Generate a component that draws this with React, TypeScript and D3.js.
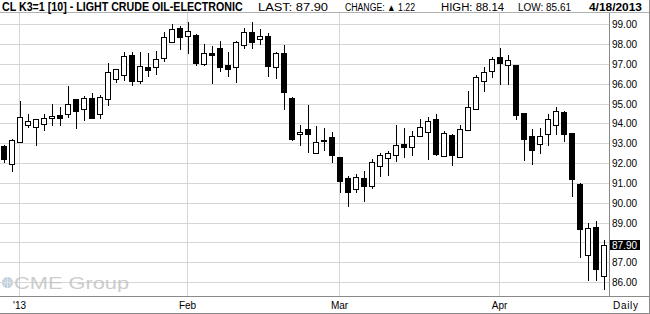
import React from 'react';
import * as d3 from 'd3';

// Trading sessions (CL K3, daily)
const dates = [
  '2012-12-28', '2012-12-31',
  '2013-01-02', '2013-01-03', '2013-01-04', '2013-01-07', '2013-01-08', '2013-01-09', '2013-01-10', '2013-01-11',
  '2013-01-14', '2013-01-15', '2013-01-16', '2013-01-17', '2013-01-18', '2013-01-22', '2013-01-23', '2013-01-24',
  '2013-01-25', '2013-01-28', '2013-01-29', '2013-01-30', '2013-01-31',
  '2013-02-01', '2013-02-04', '2013-02-05', '2013-02-06', '2013-02-07', '2013-02-08', '2013-02-11', '2013-02-12',
  '2013-02-13', '2013-02-14', '2013-02-15', '2013-02-19', '2013-02-20', '2013-02-21', '2013-02-22', '2013-02-25',
  '2013-02-26', '2013-02-27', '2013-02-28',
  '2013-03-01', '2013-03-04', '2013-03-05', '2013-03-06', '2013-03-07', '2013-03-08', '2013-03-11', '2013-03-12',
  '2013-03-13', '2013-03-14', '2013-03-15', '2013-03-18', '2013-03-19', '2013-03-20', '2013-03-21', '2013-03-22',
  '2013-03-25', '2013-03-26', '2013-03-27', '2013-03-28',
  '2013-04-01', '2013-04-02', '2013-04-03', '2013-04-04', '2013-04-05', '2013-04-08', '2013-04-09', '2013-04-10',
  '2013-04-11', '2013-04-12', '2013-04-15', '2013-04-16', '2013-04-17', '2013-04-18',
];

const opens = [
  92.88, 91.96, 93.07, 93.93, 93.83, 93.98, 94.28, 94.43, 94.48, 95.24,
  94.73, 95.29, 94.48, 95.24, 96.24, 96.45, 97.47, 96.17, 96.85, 96.85,
  97.30, 98.11, 98.81, 98.43, 98.46, 97.00, 97.55, 97.81, 96.95, 96.85,
  97.96, 98.61, 98.26, 98.41, 96.85, 97.55, 95.29, 93.47, 93.73, 92.52,
  93.17, 93.32, 92.31, 91.26, 90.70, 91.26, 90.85, 91.86, 92.26, 92.42,
  92.97, 92.82, 93.37, 93.57, 94.23, 92.37, 93.42, 92.31, 93.68, 94.73,
  96.14, 96.65, 97.35, 96.95, 96.95, 94.53, 93.37, 92.97, 93.47, 93.93,
  94.58, 93.52, 90.95, 87.38, 88.79, 86.32,
];
const highs = [
  92.92, 93.22, 95.15, 94.48, 94.26, 94.48, 94.99, 94.83, 95.91, 95.24,
  95.39, 95.55, 95.44, 97.07, 96.78, 97.60, 97.60, 97.60, 97.57, 97.67,
  98.61, 99.02, 98.91, 99.12, 98.51, 98.02, 97.91, 98.16, 97.60, 98.16,
  98.81, 99.12, 98.76, 98.56, 97.60, 97.96, 95.34, 93.93, 94.93, 93.88,
  93.78, 93.57, 92.33, 91.36, 91.46, 91.61, 92.21, 92.52, 92.62, 93.96,
  93.78, 93.62, 94.23, 94.33, 94.48, 93.62, 93.47, 93.93, 95.64, 96.45,
  96.85, 97.35, 97.81, 97.45, 96.95, 94.53, 93.76, 93.78, 94.48, 94.83,
  94.63, 93.52, 91.00, 88.99, 89.09, 88.14,
];
const lows = [
  92.01, 91.59, 93.05, 93.78, 92.90, 93.62, 93.91, 93.91, 94.31, 93.76,
  94.16, 94.31, 94.24, 94.91, 96.07, 96.17, 95.92, 95.99, 96.38, 96.45,
  97.13, 98.11, 97.74, 97.53, 96.90, 96.90, 95.99, 96.60, 96.35, 96.04,
  97.76, 97.76, 97.96, 96.35, 96.24, 94.68, 93.12, 92.87, 92.52, 92.47,
  92.62, 92.01, 90.50, 89.80, 90.50, 90.05, 90.70, 91.31, 91.36, 92.06,
  92.26, 92.37, 93.37, 92.16, 92.37, 92.37, 91.86, 92.31, 93.68, 94.68,
  95.59, 96.29, 95.94, 95.94, 94.18, 92.11, 91.91, 92.47, 92.87, 93.42,
  93.07, 90.30, 87.23, 86.07, 86.07, 85.61,
];
const closes = [
  92.21, 93.17, 94.33, 94.14, 94.23, 94.31, 94.38, 94.31, 94.99, 94.63,
  95.32, 94.31, 95.34, 96.60, 96.75, 97.40, 96.17, 96.90, 96.70, 97.25,
  98.36, 98.76, 98.36, 98.66, 97.05, 97.55, 97.48, 96.85, 96.78, 98.11,
  98.61, 98.11, 98.41, 96.90, 97.55, 95.59, 93.22, 93.57, 93.47, 93.07,
  93.12, 92.42, 91.11, 90.55, 91.31, 90.85, 92.06, 92.42, 92.52, 92.92,
  92.82, 93.37, 93.83, 94.13, 92.47, 93.52, 92.42, 93.73, 94.83, 96.35,
  96.60, 97.25, 97.05, 97.20, 94.43, 93.22, 92.67, 93.37, 94.23, 94.63,
  93.47, 91.24, 88.69, 88.74, 86.68, 87.90,
];

const priceTicks = [86, 87, 88, 89, 90, 91, 92, 93, 94, 95, 96, 97, 98, 99];
const monthLabels = ["'13", 'Feb', 'Mar', 'Apr'];

const headerTitle = 'CL K3=1 [10] - LIGHT CRUDE OIL-ELECTRONIC';
const lastPrice = 87.9;
const changeValue = 1.22;
const sessionHigh = 88.14;
const sessionLow = 85.61;
const sessionDate = '4/18/2013';

const FONT = "'Liberation Sans', Arial, sans-serif";

export default function App() {
  const W = 650;
  const H = 314;
  const plotRight = 609.5;
  const plotTop = 12.5;
  const plotBottom = 296.5;

  const x = d3.scaleLinear().domain([0, dates.length - 1]).range([4, 604]);
  const y = d3.scaleLinear().domain([86, 99]).range([282.65, 24.6]);

  const monthStarts: number[] = [];
  dates.forEach((d, i) => {
    if (i > 0 && d.slice(5, 7) !== dates[i - 1].slice(5, 7)) monthStarts.push(i);
  });

  const candles = dates.map((d, i) => ({
    i,
    o: opens[i],
    h: highs[i],
    l: lows[i],
    c: closes[i],
  }));

  const gridColor = '#d6d6d6';
  const axisColor = '#8a8a8a';
  const lastY = Math.round(y(lastPrice));

  return (
    <svg
      width={W}
      height={H}
      style={{ position: 'absolute', left: 0, top: 0, background: '#fff' }}
      fontFamily={FONT}
    >
      <rect x={0} y={0} width={W} height={H} fill="#fff" />

      {/* horizontal grid */}
      <g shapeRendering="crispEdges">
        {priceTicks.map((p) => {
          const yy = Math.floor(y(p)) + 0.5;
          return <line key={p} x1={0} x2={plotRight} y1={yy} y2={yy} stroke={gridColor} />;
        })}
        {monthStarts.map((i) => {
          const xx = Math.round(x(i)) - 0.5;
          return <line key={i} x1={xx} x2={xx} y1={plotTop} y2={plotBottom} stroke={gridColor} />;
        })}
      </g>

      {/* CME Group watermark */}
      <g opacity={0.85}>
        <circle cx={7.5} cy={282.5} r={5.5} fill="#b7c6d6" />
        <path d="M2,282.5 H13 M7.5,277 V288 M4,279 Q7.5,282.5 4,286 M11,279 Q7.5,282.5 11,286" stroke="#e6edf4" strokeWidth={0.7} fill="none" />
        <text x={14} y={289} fontSize={16} fill="#c4c4c4" textLength={115} lengthAdjust="spacingAndGlyphs">
          CME Group
        </text>
      </g>

      {/* candles */}
      <g shapeRendering="crispEdges">
        {candles.map((k) => {
          const cx = Math.round(x(k.i));
          const up = k.c >= k.o;
          const top = Math.round(y(Math.max(k.o, k.c)));
          const bot = Math.round(y(Math.min(k.o, k.c)));
          return (
            <g key={k.i}>
              <line x1={cx + 0.5} x2={cx + 0.5} y1={y(k.h)} y2={y(k.l)} stroke="#000" />
              <rect
                x={cx - 2.5}
                y={top + 0.5}
                width={5}
                height={Math.max(1, bot - top)}
                fill={up ? '#fff' : '#000'}
                stroke="#000"
              />
            </g>
          );
        })}
      </g>

      {/* frame / axes */}
      <g shapeRendering="crispEdges">
        <line x1={0} x2={W} y1={plotTop} y2={plotTop} stroke="#b0b0b0" />
        <line x1={0} x2={W} y1={plotBottom} y2={plotBottom} stroke={axisColor} />
        <line x1={0} x2={W} y1={313.5} y2={313.5} stroke={axisColor} />
        <line x1={plotRight} x2={plotRight} y1={plotTop} y2={plotBottom} stroke={axisColor} />
        <line x1={649.5} x2={649.5} y1={0} y2={H} stroke={axisColor} />
      </g>

      {/* y tick labels (the one hidden by the last-price marker is omitted) */}
      {priceTicks
        .filter((p) => Math.abs(y(p) - lastY) > 9)
        .map((p) => (
          <text key={p} x={612} y={Math.floor(y(p)) + 0.5} dy="0.36em" fontSize={10} fill="#000">
            {p.toFixed(2)}
          </text>
        ))}

      {/* last price marker */}
      <rect x={610} y={lastY - 5} width={30} height={10} fill="#000" shapeRendering="crispEdges" />
      <text x={612} y={lastY} dy="0.36em" fontSize={10} fill="#fff">
        {lastPrice.toFixed(2)}
      </text>

      {/* x labels */}
      {monthStarts.map((i, j) => (
        <text key={i} x={Math.round(x(i)) - 0.5} y={308.5} fontSize={10} textAnchor="middle" fill="#000">
          {monthLabels[j]}
        </text>
      ))}
      <text x={613} y={308.5} fontSize={10} letterSpacing={0.7} fill="#000">
        Daily
      </text>

      {/* header */}
      <g transform="translate(2,10.5) scale(0.89,1)">
        <text x={0} y={0} fontSize={12} fontWeight="bold">
          {headerTitle}
        </text>
      </g>
      <text x={258} y={10.5} fontSize={10} textLength={70} lengthAdjust="spacingAndGlyphs">
        {`LAST: ${lastPrice.toFixed(2)}`}
      </text>
      <text x={345} y={10.5} fontSize={10} textLength={70} lengthAdjust="spacingAndGlyphs">
        {`CHANGE: \u25B2 ${changeValue.toFixed(2)}`}
      </text>
      <text x={441} y={10.5} fontSize={10} textLength={63} lengthAdjust="spacingAndGlyphs">
        {`HIGH: ${sessionHigh.toFixed(2)}`}
      </text>
      <text x={518} y={10.5} fontSize={10} textLength={53} lengthAdjust="spacingAndGlyphs">
        {`LOW: ${sessionLow.toFixed(2)}`}
      </text>
      <text x={589} y={10.5} fontSize={11.5} fontWeight="bold" textLength={53} lengthAdjust="spacingAndGlyphs">
        {sessionDate}
      </text>
    </svg>
  );
}
